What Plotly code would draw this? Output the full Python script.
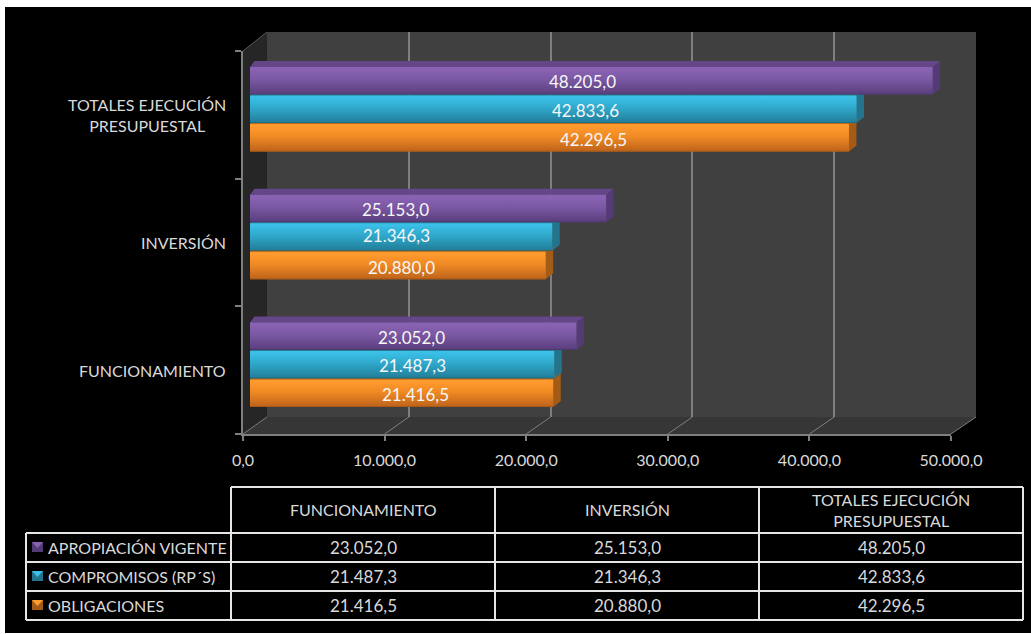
import plotly.graph_objects as go

CATEGORIES = ["FUNCIONAMIENTO", "INVERSIÓN", "TOTALES EJECUCIÓN<br>PRESUPUESTAL"]
SERIES_NAMES = ["OBLIGACIONES", "COMPROMISOS (RP´S)", "APROPIACIÓN VIGENTE"]
OBLIGACIONES = [21416.5, 20880.0, 42296.5]
COMPROMISOS = [21487.3, 21346.3, 42833.6]
APROPIACION = [23052.0, 25153.0, 48205.0]
AXIS_TICKS = [0, 10000, 20000, 30000, 40000, 50000]

W, H = 1031, 634
FONT = "Lato"
TXT = "#d9d9d9"
GRID = "#7f7f7f"
SERIES = [OBLIGACIONES, COMPROMISOS, APROPIACION]
# front colour top/mid/bottom, edge, cap, side
STYLE = [
    dict(grad=["#ff9a2e", "#f08a24", "#c2661b"], edge="#9c5214", cap="#b86a1c", side="#a35c18", mid="#e8821f"),
    dict(grad=["#3abfe6", "#30a8cb", "#22809c"], edge="#1c6276", cap="#26809c", side="#25748e", mid="#2fa5c7"),
    dict(grad=["#8a62b4", "#7a58a3", "#5c4080"], edge="#46305f", cap="#654689", side="#553a78", mid="#7152a0"),
]


def fx(p):
    return p / W


def fy(p):
    return 1 - p / H


def dom(a, b, s):
    return [a / s, b / s]


def ydom(top, bottom):
    return [1 - bottom / H, 1 - top / H]


def fmt(v):
    return f"{v:,.1f}".replace(",", "#").replace(".", ",").replace("#", ".")


def poly(points, fill, line=None, width=1):
    path = "M" + " L".join(f"{fx(x):.5f},{fy(y):.5f}" for x, y in points) + " Z"
    return dict(type="path", path=path, xref="paper", yref="paper", fillcolor=fill,
                line=dict(color=line or "rgba(0,0,0,0)", width=width), layer="below")


def seg(x0, y0, x1, y1, color, width=1.5):
    return dict(type="line", xref="paper", yref="paper", x0=fx(x0), y0=fy(y0), x1=fx(x1), y1=fy(y1),
                line=dict(color=color, width=width), layer="below")


fig = go.Figure()

# back wall grid subplot (first, so that it lies beneath the bars)
fig.add_trace(go.Scatter(x=[], y=[], xaxis="x", yaxis="y", showlegend=False))

# real bars
PX_PER_BAND = 127.67
BARGAP, GROUPGAP = 0.33, 0.035
for name, vals, st in zip(SERIES_NAMES, SERIES, STYLE):
    fig.add_trace(go.Bar(y=[0, 1, 2], x=vals, orientation="h", name=name, xaxis="x2", yaxis="y2",
                         marker=dict(color=st["mid"], line=dict(width=0)), showlegend=False))

# 3D sides, caps and gradient faces, built from the same values
SCALE_X = 50000 / 708
DX, DY = 7.5 * SCALE_X, 6 / PX_PER_BAND
pitch = (1 - BARGAP) / 3
thick = pitch * (1 - GROUPGAP)
for i, (vals, st) in enumerate(zip(SERIES, STYLE)):
    for j, v in enumerate(vals):
        c = j + (i - 1) * pitch
        lo, hi = c - thick / 2, c + thick / 2
        fig.add_trace(go.Scatter(x=[v, v + DX, v + DX, v, v], y=[lo, lo + DY, hi + DY, hi, lo], mode="lines",
                                 line=dict(width=0), fill="toself", fillcolor=st["side"],
                                 xaxis="x2", yaxis="y2", showlegend=False, hoverinfo="skip"))
        fig.add_trace(go.Scatter(x=[0, DX * .6, v + DX, v, 0], y=[hi, hi + DY, hi + DY, hi, hi], mode="lines",
                                 line=dict(width=0), fill="toself", fillcolor=st["cap"],
                                 xaxis="x2", yaxis="y2", showlegend=False, hoverinfo="skip"))
        fig.add_trace(go.Scatter(x=[0, v, v, 0, 0], y=[lo, lo, hi, hi, lo], mode="lines",
                                 line=dict(width=0), fill="toself",
                                 fillgradient=dict(type="vertical", colorscale=[
                                     [0, st["edge"]], [0.05, st["grad"][2]], [0.55, st["grad"][1]],
                                     [0.92, st["grad"][0]], [1, st["grad"][0]]]),
                                 xaxis="x2", yaxis="y2", showlegend=False, hoverinfo="skip"))

# tick axes subplot
fig.add_trace(go.Scatter(x=[], y=[], xaxis="x3", yaxis="y3", showlegend=False))

shapes = [
    dict(type="rect", xref="paper", yref="paper", x0=fx(5), x1=1, y0=fy(633), y1=fy(7),
         fillcolor="#000000", line=dict(width=0), layer="below"),
    poly([(267, 32), (976, 32), (976, 417), (267, 417)], "#404040"),
    poly([(243, 434), (951, 434), (976, 417), (267, 417)], "#363636"),
    poly([(243, 51), (267, 32), (267, 417), (243, 434)], "#262626"),
    seg(243, 51, 267, 32, "#595959", 1),
]
for k, _t in enumerate(AXIS_TICKS):
    shapes.append(seg(243 + 141.6 * k, 434, 267 + 141.8 * k, 417, GRID, 1))

# table
T = "#e6e6e6"
COLS = [231, 495, 759, 1023]
ROWS = [533, 562, 591, 620]
for x in COLS:
    shapes.append(seg(x, 487, x, 620, T, 2))
shapes.append(seg(26, 533, 26, 620, T, 2))
shapes.append(seg(231, 487, 1023, 487, T, 2))
for y in ROWS:
    shapes.append(seg(26, y, 1023, y, T, 2))

ann = []


def note(text, x, y, size=16, color=TXT, anchor="center"):
    ann.append(dict(text=text, x=fx(x), y=fy(y), xref="paper", yref="paper", showarrow=False,
                    xanchor=anchor, yanchor="middle", align="center", font=dict(family=FONT, size=size, color=color)))


# category labels
for i, cat in enumerate(CATEGORIES):
    ann.append(dict(text=cat, x=fx(228), y=i, xref="paper", yref="y3", showarrow=False, xanchor="right",
                    yanchor="middle", align="center", font=dict(family=FONT, size=16, color=TXT)))

# data labels with their hand-placed offsets in the reference (px, per series and category)
NUDGE_X = [[14, 4, 44], [10, -5, 32], [-2, -33, -9]]
NUDGE_Y = [[-1.5, -1.5, -1.5], [-0.5, 1.5, -1], [-1, -1, -1]]
for i, (vals, nx, ny) in enumerate(zip(SERIES, NUDGE_X, NUDGE_Y)):
    for j, v in enumerate(vals):
        ann.append(dict(text=fmt(v), x=v / 2, y=j + (i - 1) * pitch, xref="x2", yref="y2", showarrow=False,
                        xshift=nx[j], yshift=ny[j], xanchor="center", yanchor="middle",
                        font=dict(family=FONT, size=17, color="#f7f7f7")))

# table text
COL_CENTERS = [363, 627, 891]
for i, cat in enumerate(CATEGORIES):
    note(cat, COL_CENTERS[i], 509.5)
TABLE_ROWS = [APROPIACION, COMPROMISOS, OBLIGACIONES]
ROW_NAMES = [SERIES_NAMES[2], SERIES_NAMES[1], SERIES_NAMES[0]]
ROW_STYLE = [STYLE[2], STYLE[1], STYLE[0]]
ROW_Y = [547, 576, 605]
for y, rname, vals, st in zip(ROW_Y, ROW_NAMES, TABLE_ROWS, ROW_STYLE):
    note(rname, 45.5, y, anchor="left")
    for cx, v in zip(COL_CENTERS, vals):
        note(fmt(v), cx, y, size=17)
    shapes.append(poly([(32, y - 5), (43, y - 5), (43, y + 5), (32, y + 5)], st["side"]))
    shapes.append(poly([(32, y - 5), (43, y - 5), (37.5, y + 1)], st["grad"][0]))

fig.update_layout(
    width=W, height=H, margin=dict(l=0, r=0, t=0, b=0), autosize=False,
    paper_bgcolor="#ffffff", plot_bgcolor="rgba(0,0,0,0)",
    separators=",.", barmode="group", bargap=BARGAP, bargroupgap=GROUPGAP,
    showlegend=False, shapes=shapes, annotations=ann,
    font=dict(family=FONT, size=16, color=TXT),
    # back wall with vertical gridlines
    xaxis=dict(domain=dom(267, 976, W), range=[0, 50000], anchor="y", tickvals=AXIS_TICKS, showgrid=True,
               gridcolor=GRID, gridwidth=1.5, showticklabels=False, ticks="", zeroline=False, fixedrange=True,
               automargin=False),
    yaxis=dict(domain=ydom(32, 417), range=[0, 1], anchor="x", visible=False, fixedrange=True, automargin=False),
    # bars
    xaxis2=dict(domain=dom(250, 958, W), range=[0, 50000], anchor="y2", visible=False, fixedrange=True,
                automargin=False),
    yaxis2=dict(domain=ydom(45.5, 428.5), range=[-0.5, 2.5], anchor="x2", visible=False, fixedrange=True,
                automargin=False),
    # visible front axes
    xaxis3=dict(domain=dom(243, 951, W), range=[0, 50000], anchor="y3", tickvals=AXIS_TICKS, tickformat=",.1f",
                showgrid=False, zeroline=False, showline=True, linecolor=GRID, linewidth=1.5, ticks="outside",
                ticklen=5, tickcolor=GRID, tickwidth=1.5, ticklabelstandoff=6, automargin=False,
                tickfont=dict(family=FONT, size=16, color=TXT), fixedrange=True),
    yaxis3=dict(domain=ydom(51, 434), range=[-0.5, 2.5], anchor="x3", tickvals=[-0.5, 0.5, 1.5, 2.5],
                showticklabels=False, showgrid=False, zeroline=False, showline=True, linecolor=GRID, linewidth=1.5,
                ticks="outside", ticklen=6, tickcolor=GRID, tickwidth=1.5, fixedrange=True, automargin=False),
)

fig.write_html("out.html", config=dict(displayModeBar=False),
               post_script="document.body.style.margin='0';")
